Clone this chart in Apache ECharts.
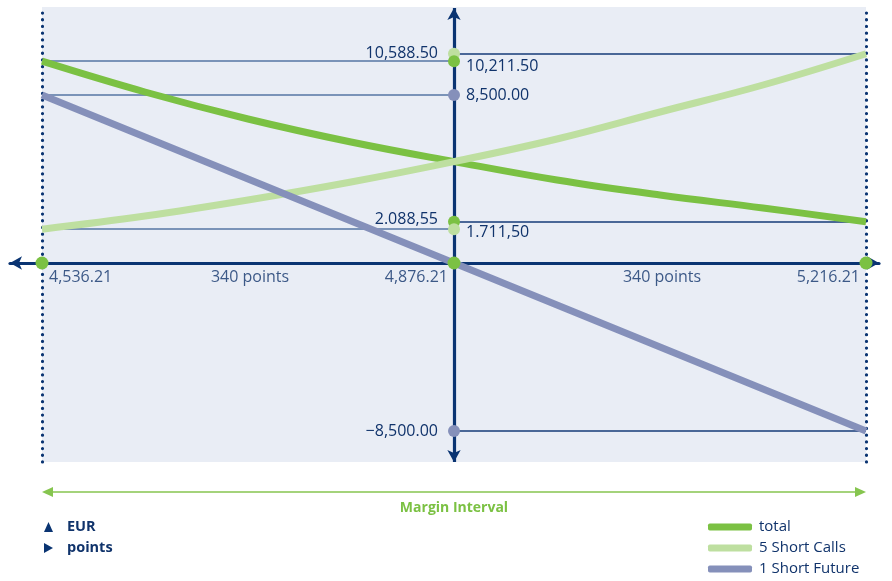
<!DOCTYPE html>
<html><head><meta charset="utf-8">
<script src="https://cdn.jsdelivr.net/npm/echarts@6/dist/echarts.min.js"></script>
<style>html,body{margin:0;padding:0;background:#fff}#c{width:892px;height:581px}</style>
</head><body><div id="c"></div>
<script>
// ---- data ----
const xPoints = [4536.21, 4621.21, 4706.21, 4791.21, 4876.21, 4961.21, 5046.21, 5131.21, 5216.21];
const totalValues = [10211.5, 8652, 7286, 6122, 5130, 4199, 3440, 2783, 2088.55];
const callsValues = [1711.5, 2378, 3187, 4098, 5130, 6274, 7640, 9006, 10588.5];
const futureX = [4536.21, 4876.21, 5216.21];
const futureValues = [8500, 0, -8500];
const seriesNames = ['total', '5 Short Calls', '1 Short Future'];
const xTickValues = [4536.21, 4876.21, 5216.21];
const xTickLabels = ['4,536.21', '4,876.21', '5,216.21'];
const spanCenters = [4706.21, 5046.21];
const spanLabels = ['340 points', '340 points'];
const axisMarkValues = [10588.5, 10211.5, 8500, 2088.55, 1711.5, -8500];
const axisMarkLabels = ['10,588.50', '10,211.50', '8,500.00', '2.088,55', '1.711,50', '\u22128,500.00'];
const axisMarkSeries = [1, 0, 2, 0, 1, 2];
const axisUnitLabels = ['EUR', 'points'];
const intervalLabel = 'Margin Interval';

// ---- styling / layout ----
const colors = ['#7BC143', '#BEDFA0', '#8590BA'];
const navy = '#0A3472';
const textNavy = '#10336B';
const bg = '#E9EDF5';
const W = 892, H = 581;
const plotL = 42, plotR = 866, zeroY = 263, plotT = 7, plotB = 462;
const gridL = 10, gridR = 879;
const xPerPx = (xTickValues[2] - xTickValues[0]) / (plotR - plotL);
const yPerPx = 8500 / 168;
const xMin = xTickValues[0] - (plotL - gridL) * xPerPx;
const xMax = xTickValues[2] + (gridR - plotR) * xPerPx;
const yMax = (zeroY - plotT) * yPerPx;
const yMin = -(plotB - zeroY) * yPerPx;
const xC = xTickValues[1], xL = xTickValues[0], xR = xTickValues[2];
const fontFam = '"Open Sans", "Noto Sans", sans-serif';

const pairs = (xs, ys) => xs.map((x, i) => [x, ys[i]]);

// guide lines
const guideData = [];
[xL, xR].forEach(x => guideData.push([
  {coord: [x, yMin], lineStyle: {color: navy, width: 3.2, type: [0.1, 6.6], cap: 'round'}},
  {coord: [x, yMax]}
]));
[totalValues[0], futureValues[0], callsValues[0]].forEach(v => guideData.push([
  {coord: [xL, v], lineStyle: {color: '#5574A3', width: 1.5, type: 'solid'}},
  {coord: [xC, v]}
]));
[callsValues[callsValues.length - 1], totalValues[totalValues.length - 1], futureValues[futureValues.length - 1]].forEach(v => guideData.push([
  {coord: [xC, v], lineStyle: {color: '#143A77', width: 1.5, type: 'solid'}},
  {coord: [xR, v]}
]));
// vertical axis with arrows
guideData.push([
  {coord: [xC, yMin], symbol: 'arrow', symbolSize: [10, 12], lineStyle: {color: navy, width: 3.2, type: 'solid'}},
  {coord: [xC, yMax - 1 * yPerPx], symbol: 'arrow', symbolSize: [10, 12]}
]);

const sideOf = ['left', 'right', 'right', 'left', 'right', 'left'];
const labelDy = [0, 5, 0, -2, 3, 0];
const dotData = axisMarkValues.map((v, i) => ({
  value: [xC, v],
  itemStyle: {color: colors[axisMarkSeries[i]], opacity: 1},
  label: {
    show: true, formatter: axisMarkLabels[i], position: 'inside',
    align: sideOf[i] === 'left' ? 'right' : 'left',
    offset: [sideOf[i] === 'left' ? -16 : 12, labelDy[i]],
    color: textNavy, fontSize: 16, fontFamily: fontFam
  }
}));
xTickValues.forEach(x => dotData.push({value: [x, 0], symbolSize: 13, itemStyle: {color: colors[0], opacity: 1}}));

const xLabelData = xTickValues.map((x, i) => ({
  value: [x, 0],
  label: {show: true, formatter: xTickLabels[i], position: 'inside',
    align: i === 0 ? 'left' : 'right', offset: [i === 0 ? 7 : -6, 14],
    color: textNavy, fontSize: 16, fontFamily: fontFam}
})).concat(spanCenters.map((x, i) => ({
  value: [x, 0],
  label: {show: true, formatter: spanLabels[i], position: 'inside', align: 'center', offset: [2, 14],
    color: textNavy, fontSize: 16, fontFamily: fontFam}
})));

const chart = echarts.init(document.getElementById('c'), null, {renderer: 'canvas'});
const arrowY = 492;
chart.setOption({
  animation: false,
  backgroundColor: '#ffffff',
  grid: {left: gridL, right: W - gridR, top: plotT, bottom: H - plotB},
  xAxis: {
    type: 'value', min: xMin, max: xMax, z: 1,
    axisLine: {show: true, onZero: true, symbol: ['arrow', 'arrow'], symbolSize: [10, 12],
      lineStyle: {color: navy, width: 3.2}},
    axisTick: {show: false}, axisLabel: {show: false}, splitLine: {show: false}
  },
  yAxis: {type: 'value', min: yMin, max: yMax, show: false, splitLine: {show: false}},
  legend: {
    data: seriesNames.map(n => ({name: n, icon: 'roundRect'})),
    orient: 'vertical', left: 708, top: 519, padding: 0, itemWidth: 44, itemHeight: 7, itemGap: 5,
    selectedMode: false,
    textStyle: {color: textNavy, fontSize: 15, lineHeight: 16, fontFamily: fontFam, padding: [0, 0, 0, 2]}
  },
  series: [
    {type: 'line', name: 'bg', data: [], z: 0, silent: true,
      markArea: {silent: true, z: 0, itemStyle: {color: bg}, data: [[{coord: [xL, yMin]}, {coord: [xR, yMax]}]]}},
    {type: 'line', name: 'guides', data: [], z: 1, silent: true,
      markLine: {silent: true, z: 1, symbol: 'none', label: {show: false}, emphasis: {disabled: true}, data: guideData}},
    {type: 'line', name: seriesNames[0], data: pairs(xPoints, totalValues), smooth: 0.4, showSymbol: false, z: 2,
      color: colors[0], lineStyle: {color: colors[0], width: 7, cap: 'butt'}},
    {type: 'line', name: seriesNames[1], data: pairs(xPoints, callsValues), smooth: 0.4, showSymbol: false, z: 2,
      color: colors[1], lineStyle: {color: colors[1], width: 7, cap: 'butt'}},
    {type: 'line', name: seriesNames[2], data: pairs(futureX, futureValues), showSymbol: false, z: 2,
      color: colors[2], lineStyle: {color: colors[2], width: 7, cap: 'butt'}},
    {type: 'scatter', name: 'dots', data: dotData, symbolSize: 12, z: 6, silent: true, itemStyle: {opacity: 1}},
    {type: 'scatter', name: 'xlabels', data: xLabelData, symbolSize: 0, z: 6, silent: true}
  ],
  graphic: [
    {type: 'line', shape: {x1: plotL + 6, y1: arrowY, x2: plotR - 6, y2: arrowY}, style: {stroke: '#86C54F', lineWidth: 1.5}},
    {type: 'polygon', shape: {points: [[plotL, arrowY], [plotL + 11, arrowY - 5], [plotL + 11, arrowY + 5]]}, style: {fill: '#86C54F'}},
    {type: 'polygon', shape: {points: [[plotR, arrowY], [plotR - 11, arrowY - 5], [plotR - 11, arrowY + 5]]}, style: {fill: '#86C54F'}},
    {type: 'text', x: (plotL + plotR) / 2, y: 508, style: {text: intervalLabel, fill: '#7BC143', font: 'bold 14px ' + fontFam, textAlign: 'center', textVerticalAlign: 'middle'}},
    {type: 'polygon', shape: {points: [[44, 532], [48.5, 522], [53, 532]]}, style: {fill: navy}},
    {type: 'polygon', shape: {points: [[44, 543], [53, 548], [44, 553]]}, style: {fill: navy}},
    {type: 'text', x: 67, y: 527, style: {text: axisUnitLabels[0], fill: textNavy, font: 'bold 14.5px ' + fontFam, textVerticalAlign: 'middle'}},
    {type: 'text', x: 67, y: 548, style: {text: axisUnitLabels[1], fill: textNavy, font: 'bold 14.5px ' + fontFam, textVerticalAlign: 'middle'}}
  ]
});
</script>
</body></html>
